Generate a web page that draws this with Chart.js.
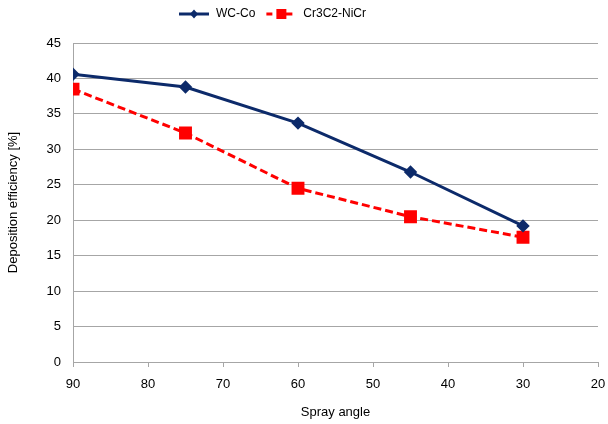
<!DOCTYPE html>
<html>
<head>
<meta charset="utf-8">
<script src="https://cdn.jsdelivr.net/npm/chart.js@4"></script>
<style>
  html, body { margin: 0; padding: 0; background: #fff; }
  #wrap { width: 608px; height: 424px; }
</style>
</head>
<body>
<div id="wrap"><canvas id="c" width="608" height="424"></canvas></div>
<script>
const sprayAngles = [90, 75, 60, 45, 30];
const wcCo = [40.6, 38.8, 33.7, 26.8, 19.2];
const cr3c2NiCr = [38.5, 32.3, 24.5, 20.5, 17.6];
const seriesNames = ['WC-Co', 'Cr3C2-NiCr'];
const xTitle = 'Spray angle';
const yTitle = 'Deposition efficiency [%]';

const NAVY = '#0c2a6a';
const RED = '#ff0000';

function legendIcon(color, dashed, marker) {
  const c = document.createElement('canvas');
  c.width = 32; c.height = 12;
  const g = c.getContext('2d');
  g.strokeStyle = color; g.lineWidth = 3;
  if (dashed) g.setLineDash([6, 4]);
  g.beginPath(); g.moveTo(1, 6); g.lineTo(31, 6); g.stroke();
  g.setLineDash([]);
  g.fillStyle = color;
  if (marker === 'diamond') {
    g.beginPath(); g.moveTo(16, 1.5); g.lineTo(20, 6); g.lineTo(16, 10.5); g.lineTo(12, 6); g.closePath(); g.fill();
  } else {
    g.fillRect(11, 1, 10, 10);
  }
  return c;
}
const icons = [legendIcon(NAVY, false, 'diamond'), legendIcon(RED, true, 'square')];

const toXY = (xs, ys) => xs.map((x, i) => ({x: x, y: ys[i]}));
const FONT = "'Liberation Sans', Arial, sans-serif";

// shift the legend to the reference position (left of centre, near the top)
const legendShift = {
  id: 'legendShift',
  afterLayout(chart) {
    const lg = chart.legend;
    if (!lg) return;
    const dy = 13;
    lg.top -= dy; lg.bottom -= dy;
    const center = 272;
    const w = lg.right - lg.left;
    lg.left = center - w / 2; lg.right = center + w / 2;
  }
};

new Chart(document.getElementById('c'), {
  type: 'line',
  data: {
    datasets: [
      {
        label: seriesNames[0],
        data: toXY(sprayAngles, wcCo),
        borderColor: NAVY, backgroundColor: NAVY,
        borderWidth: 3, pointStyle: 'rectRot', pointRadius: 4.6, pointHoverRadius: 4.6,
        tension: 0, fill: false
      },
      {
        label: seriesNames[1],
        data: toXY(sprayAngles, cr3c2NiCr),
        borderColor: RED, backgroundColor: RED,
        borderWidth: 3, borderDash: [8, 4], pointStyle: 'rect', pointRadius: 7, pointHoverRadius: 7,
        tension: 0, fill: false
      }
    ]
  },
  options: {
    responsive: false,
    animation: false,
    devicePixelRatio: 1,
    layout: { padding: { left: 0, right: 0, top: 11, bottom: 0 } },
    plugins: {
      tooltip: { enabled: false },
      legend: {
        position: 'top',
        labels: {
          font: { family: FONT, size: 12 },
          color: '#000',
          usePointStyle: true,
          pointStyleWidth: 32,
          boxHeight: 12,
          padding: 10,
          generateLabels: (chart) => chart.data.datasets.map((ds, i) => ({
            text: ds.label, pointStyle: icons[i], fillStyle: ds.borderColor,
            strokeStyle: ds.borderColor, lineWidth: 0, datasetIndex: i, hidden: false, fontColor: '#000'
          }))
        }
      }
    },
    scales: {
      x: {
        type: 'linear',
        reverse: true,
        min: 20, max: 90,
        ticks: { stepSize: 10, color: '#000', font: { family: FONT, size: 13 }, padding: 10, maxRotation: 0 },
        grid: { drawOnChartArea: false, drawTicks: true, tickLength: 5, color: '#a6a6a6' },
        border: { color: '#a6a6a6', width: 1 },
        title: { display: true, text: xTitle, color: '#000', font: { family: FONT, size: 13 }, padding: { top: 4, bottom: 4 } },
        afterFit: (s) => { s.height = 62; s.paddingRight = 8; s.paddingLeft = 0; }
      },
      y: {
        min: 0, max: 45,
        ticks: { stepSize: 5, color: '#000', font: { family: FONT, size: 13 }, padding: 12 },
        grid: { drawTicks: false, tickLength: 0, color: '#a6a6a6' },
        border: { color: '#a6a6a6', width: 1 },
        title: { display: true, text: yTitle, color: '#000', font: { family: FONT, size: 13 }, padding: { top: 6, bottom: 4 } },
        afterFit: (s) => { s.width = 73; }
      }
    }
  },
  plugins: [legendShift]
});
</script>
</body>
</html>
